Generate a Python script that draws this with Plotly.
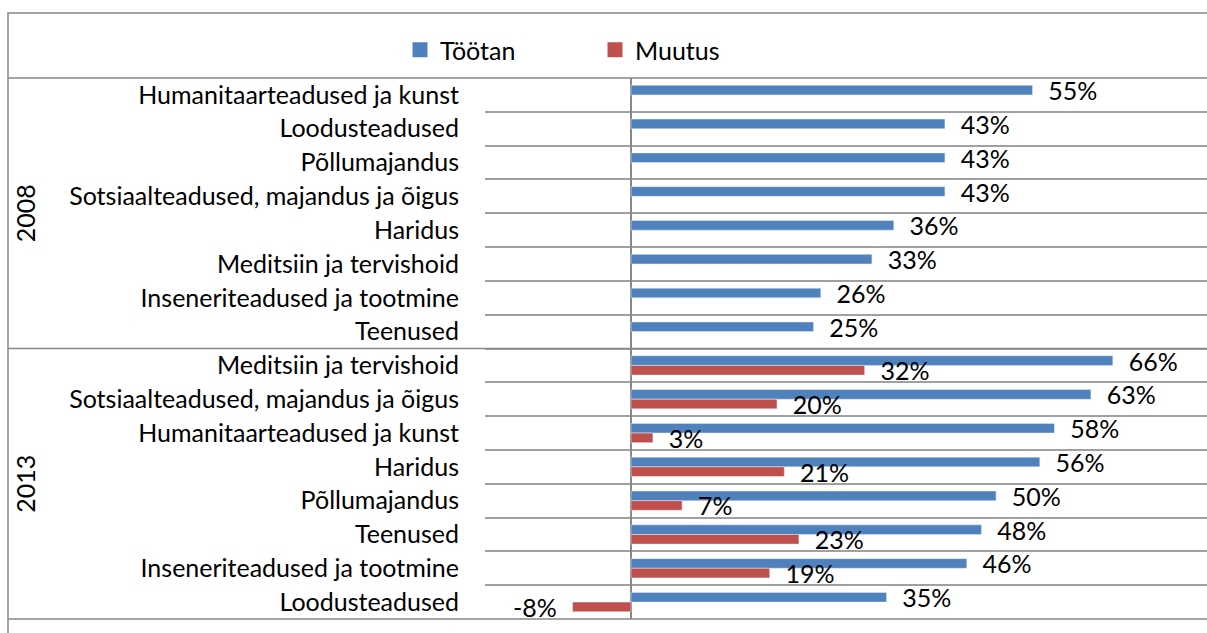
import plotly.graph_objects as go

COLOR_TOOTAN = "#4F81BD"
COLOR_MUUTUS = "#C0504D"
GRID = "#a0a0a0"
BORDER = "#878787"
FONT = "Lato"
FONT_SIZE = 25

years = ["2008", "2013"]
cats_2008 = ["Humanitaarteadused ja kunst", "Loodusteadused", "Põllumajandus",
             "Sotsiaalteadused, majandus ja õigus", "Haridus",
             "Meditsiin ja tervishoid", "Inseneriteadused ja tootmine", "Teenused"]
tootan_2008 = [55, 43, 43, 43, 36, 33, 26, 25]
muutus_2008 = [None] * 8

cats_2013 = ["Meditsiin ja tervishoid", "Sotsiaalteadused, majandus ja õigus",
             "Humanitaarteadused ja kunst", "Haridus", "Põllumajandus", "Teenused",
             "Inseneriteadused ja tootmine", "Loodusteadused"]
tootan_2013 = [66, 63, 58, 56, 50, 48, 46, 35]
muutus_2013 = [32, 20, 3, 21, 7, 23, 19, -8]

groups = [cats_2008, cats_2013]
labels = cats_2008 + cats_2013
tootan = tootan_2008 + tootan_2013
muutus = muutus_2008 + muutus_2013
rows = list(range(len(labels)))


def pct_text(vals):
    out = []
    for v in vals:
        if v is None:
            out.append("")
        elif v < 0:
            out.append(f"{v}%\u00a0\u00a0")
        else:
            out.append(f"\u00a0\u00a0{v}%")
    return out


W, H = 1207, 633
M_L, M_R, M_T, M_B = 485, 0, 78, 14
plot_w = W - M_L - M_R
plot_h = H - M_T - M_B

fig = go.Figure()
for name, vals, color in [("Töötan", tootan, COLOR_TOOTAN),
                          ("Muutus", muutus, COLOR_MUUTUS)]:
    fig.add_trace(go.Bar(
        name=name, y=rows, x=vals, orientation="h",
        marker_color=color, showlegend=False,
        text=pct_text(vals), texttemplate="%{text}", textposition="outside",
        constraintext="none", cliponaxis=False,
        textfont=dict(size=FONT_SIZE, color="black"),
    ))
    # legend entry with a bigger square swatch
    fig.add_trace(go.Scatter(
        name=name, x=[None], y=[None], mode="markers",
        marker=dict(symbol="square", size=15, color=color),
    ))

# year labels and group separators
shapes = []
annotations = []
start = 0
n = len(labels)
left_edge = (8 - M_L) / plot_w
for year, cats in zip(years, groups):
    annotations.append(dict(
        text=year, x=(25 - M_L) / plot_w, xref="paper", xanchor="center",
        y=start + (len(cats) - 1) / 2, yref="y", yanchor="middle",
        textangle=-90, showarrow=False,
        font=dict(size=FONT_SIZE, color="black"),
    ))
    shapes.append(dict(type="line", xref="paper", yref="y domain",
                       x0=left_edge, x1=1.05, y0=1 - start / n, y1=1 - start / n,
                       line=dict(color=BORDER, width=1.5)))
    start += len(cats)
shapes.append(dict(type="line", xref="paper", yref="y domain",
                   x0=left_edge, x1=1.05, y0=0, y1=0,
                   line=dict(color=BORDER, width=1.5)))
# outer chart border (right and bottom sides fall outside the picture)
shapes.append(dict(type="rect", xref="paper", yref="paper",
                   x0=left_edge, x1=1.05, y0=-0.2,
                   y1=(H - M_B - 13) / plot_h,
                   line=dict(color=BORDER, width=1.5), fillcolor="rgba(0,0,0,0)"))

fig.update_layout(
    width=W, height=H,
    barmode="group", bargap=0.43, bargroupgap=0,
    plot_bgcolor="white", paper_bgcolor="white",
    font=dict(family=FONT, size=FONT_SIZE, color="black"),
    margin=dict(l=M_L, r=M_R, t=M_T, b=M_B),
    showlegend=True,
    legend=dict(
        orientation="h", xref="container", yref="container",
        x=400 / W, y=1 - 50 / H, xanchor="left", yanchor="middle",
        entrywidth=150, entrywidthmode="pixels",
        font=dict(size=FONT_SIZE),
    ),
    xaxis=dict(range=[-20, 78.9], showgrid=False, showticklabels=False,
               zeroline=True, zerolinecolor=BORDER, zerolinewidth=1.5),
    yaxis=dict(range=[n - 0.5, -0.5], tickmode="array", tickvals=rows,
               ticktext=labels, showgrid=False, zeroline=False, ticks="",
               ticklabelstandoff=25,
               minor=dict(tickmode="linear", tick0=-0.5, dtick=1,
                          showgrid=True, gridcolor=GRID, gridwidth=1.5)),
    shapes=shapes,
    annotations=annotations,
)

# drop the default page margin so the figure fills the window exactly
fig.write_html(
    "out.html",
    config={"displayModeBar": False},
    post_script="document.body.style.margin='0';"
                "document.body.style.overflow='hidden';",
)
